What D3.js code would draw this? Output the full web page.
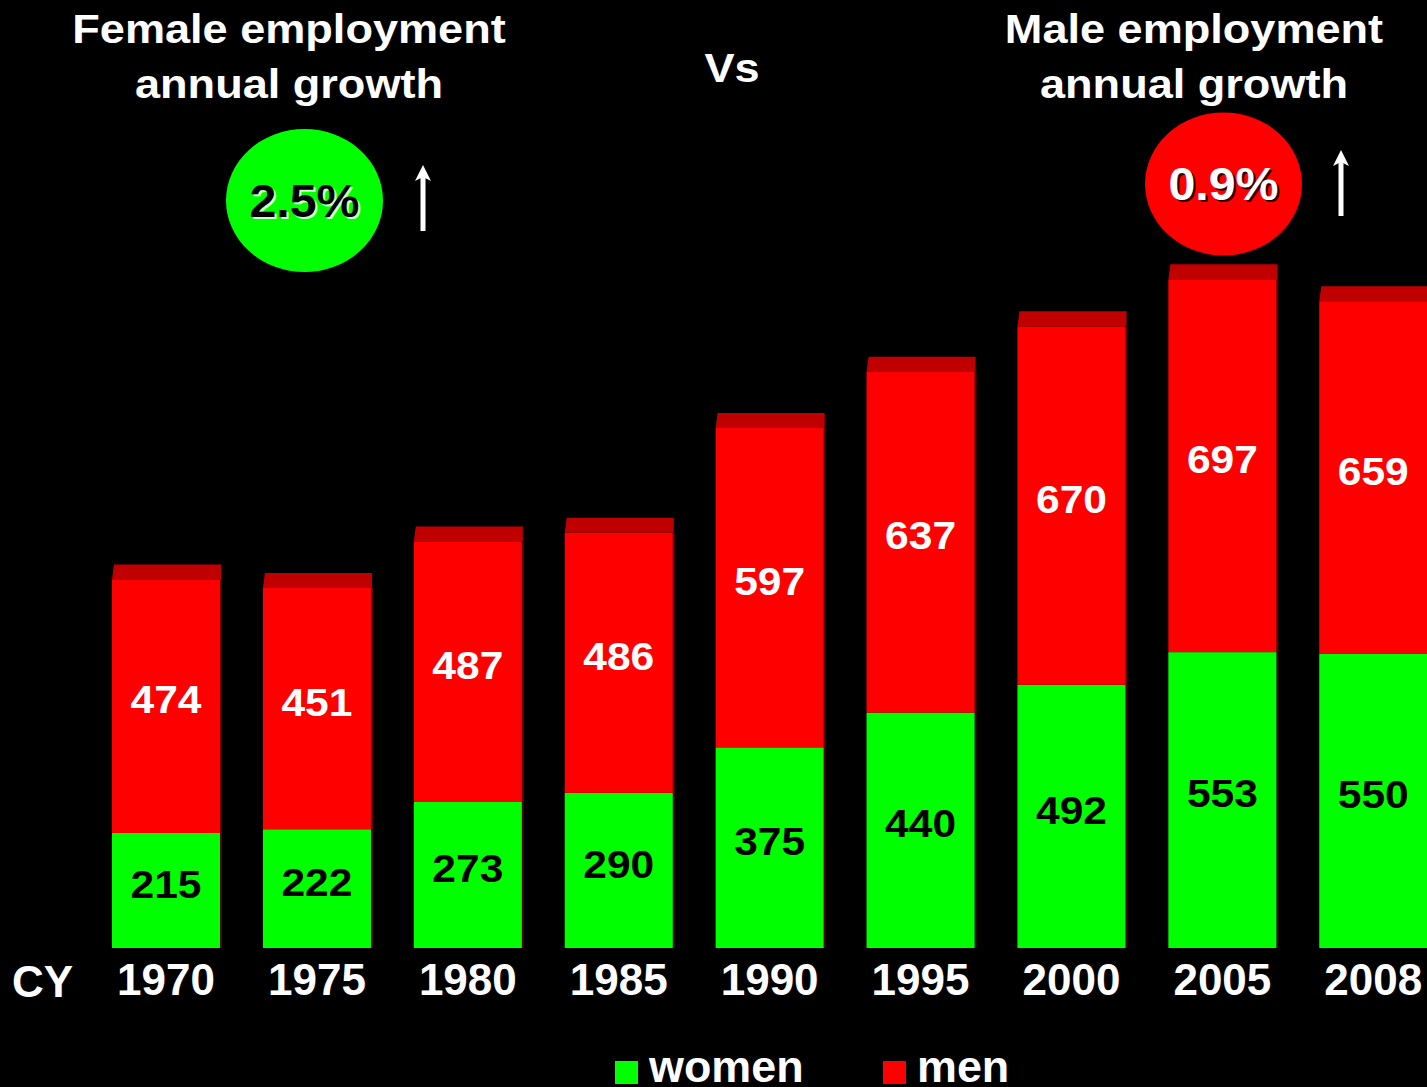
<!DOCTYPE html>
<html>
<head>
<meta charset="utf-8">
<script src="https://cdn.jsdelivr.net/npm/d3@7"></script>
<style>
  html, body { margin: 0; padding: 0; background: #000; overflow: hidden; }
  svg { display: block; font-family: "Liberation Sans", Arial, sans-serif; font-weight: bold; }
</style>
</head>
<body>
<div id="chart"></div>
<script>
// Employment by sex (thousands), calendar years
const years = ['1970', '1975', '1980', '1985', '1990', '1995', '2000', '2005', '2008'];
const women = [215, 222, 273, 290, 375, 440, 492, 553, 550];
const men = [474, 451, 487, 486, 597, 637, 670, 697, 659];
const growthLabels = ['2.5%', '0.9%'];
const titles = [['Female employment', 'annual growth'], ['Male employment', 'annual growth']];

const width = 1427, height = 1087;
const baseY = 948;

const svg = d3.select('#chart').append('svg')
    .attr('width', width)
    .attr('height', height);

svg.append('rect').attr('width', width).attr('height', height).attr('fill', '#000');

// the original slide text is a little wider than plain Arial
function wideText(g, tx, ty, sx, txt) {
    return g.append('text')
        .attr('transform', `translate(${tx},${ty}) scale(${sx},1)`)
        .text(txt);
}

// Scales
const x = d3.scaleBand()
    .domain(years)
    .range([112, 1427.3])
    .paddingInner(0.284)
    .paddingOuter(0);
const y = d3.scaleLinear()
    .domain([0, 1250])
    .range([baseY, baseY - 1250 * 0.535]);

const data = years.map((yr, i) => ({ year: yr, women: women[i], men: men[i] }));
const capH = 15;

const bars = svg.append('g').selectAll('g')
    .data(data)
    .join('g');

// small shadow on the right side of each bar
bars.append('rect')
    .attr('x', d => x(d.year) + x.bandwidth())
    .attr('y', d => y(d.women + d.men))
    .attr('width', 2)
    .attr('height', d => baseY - y(d.women + d.men))
    .attr('fill', '#5a0000');

// women segment
bars.append('rect')
    .attr('x', d => x(d.year))
    .attr('y', d => y(d.women))
    .attr('width', x.bandwidth())
    .attr('height', d => y(0) - y(d.women))
    .attr('fill', '#00ff00');

// men segment
bars.append('rect')
    .attr('x', d => x(d.year))
    .attr('y', d => y(d.women + d.men))
    .attr('width', x.bandwidth())
    .attr('height', d => y(d.women) - y(d.women + d.men))
    .attr('fill', '#ff0000');

// dark top cap (3D look)
bars.append('path')
    .attr('fill', '#c00000')
    .attr('d', d => {
        const x0 = x(d.year), x1 = x0 + x.bandwidth(), t = y(d.women + d.men);
        return `M${x0},${t}L${x0 + 2},${t - capH}L${x1 + 1},${t - capH}L${x1 + 1},${t}Z`;
    });

// value labels
bars.each(function (d) {
    const g = d3.select(this);
    const cx = x(d.year) + x.bandwidth() / 2;
    wideText(g, cx, (y(d.women) + y(0)) / 2 - 6, 1.12, d.women)
        .attr('text-anchor', 'middle')
        .attr('dominant-baseline', 'central')
        .attr('font-size', 38)
        .attr('fill', '#000');
    wideText(g, cx, (y(d.women + d.men) + y(d.women)) / 2 - 6, 1.12, d.men)
        .attr('text-anchor', 'middle')
        .attr('dominant-baseline', 'central')
        .attr('font-size', 38)
        .attr('fill', '#fff');
});

// x axis (year labels)
const xAxis = svg.append('g')
    .attr('transform', `translate(0,${baseY})`)
    .call(d3.axisBottom(x).tickSize(0).tickPadding(0));
xAxis.select('.domain').remove();
xAxis.selectAll('text')
    .attr('y', 47)
    .attr('dy', null)
    .attr('fill', '#fff')
    .attr('font-size', 44)
    .attr('font-weight', 'bold')
    .attr('font-family', '"Liberation Sans", Arial, sans-serif');

svg.append('text')
    .attr('x', 12).attr('y', 997)
    .attr('font-size', 44).attr('fill', '#fff')
    .text('CY');

// titles
const titleX = [289, 1194];
titles.forEach((lines, i) => {
    lines.forEach((line, j) => {
        wideText(svg, titleX[i], 43 + j * 55, 1.1, line)
            .attr('text-anchor', 'middle')
            .attr('font-size', 41)
            .attr('fill', '#fff');
    });
});
wideText(svg, 732, 82, 1.1, 'Vs')
    .attr('text-anchor', 'middle')
    .attr('font-size', 41)
    .attr('fill', '#fff');

// growth bubbles
const bubbles = [
    { cx: 304.5, cy: 200.5, fill: '#00ff00', text: growthLabels[0], color: '#000', shadow: '#fff', arrowX: 423, arrowTop: 165, arrowBottom: 231 },
    { cx: 1223.5, cy: 184, fill: '#ff0000', text: growthLabels[1], color: '#fff', shadow: '#000', arrowX: 1341, arrowTop: 150, arrowBottom: 216 }
];
bubbles.forEach(b => {
    svg.append('ellipse')
        .attr('cx', b.cx).attr('cy', b.cy)
        .attr('rx', 78.5).attr('ry', 71.5)
        .attr('fill', b.fill);
    wideText(svg, b.cx + 2, b.cy + 2, 1.05, b.text)
        .attr('text-anchor', 'middle')
        .attr('dominant-baseline', 'central')
        .attr('font-size', 46)
        .attr('fill', b.shadow)
        .attr('opacity', 0.8);
    wideText(svg, b.cx, b.cy, 1.05, b.text)
        .attr('text-anchor', 'middle')
        .attr('dominant-baseline', 'central')
        .attr('font-size', 46)
        .attr('fill', b.color);
    // up arrow
    svg.append('rect')
        .attr('x', b.arrowX - 2.5).attr('y', b.arrowTop + 12)
        .attr('width', 5).attr('height', b.arrowBottom - b.arrowTop - 12)
        .attr('fill', '#fff');
    svg.append('path')
        .attr('d', `M${b.arrowX},${b.arrowTop}L${b.arrowX + 8},${b.arrowTop + 16}L${b.arrowX},${b.arrowTop + 12}L${b.arrowX - 8},${b.arrowTop + 16}Z`)
        .attr('fill', '#fff');
});

// legend
const legend = [
    { label: 'women', color: '#00ff00', x: 615 },
    { label: 'men', color: '#ff0000', x: 883 }
];
legend.forEach(l => {
    svg.append('rect')
        .attr('x', l.x).attr('y', 1061)
        .attr('width', 23).attr('height', 23)
        .attr('fill', l.color);
    wideText(svg, l.x + 34, 1082, 1.02, l.label)
        .attr('font-size', 44)
        .attr('fill', '#fff');
});
</script>
</body>
</html>
